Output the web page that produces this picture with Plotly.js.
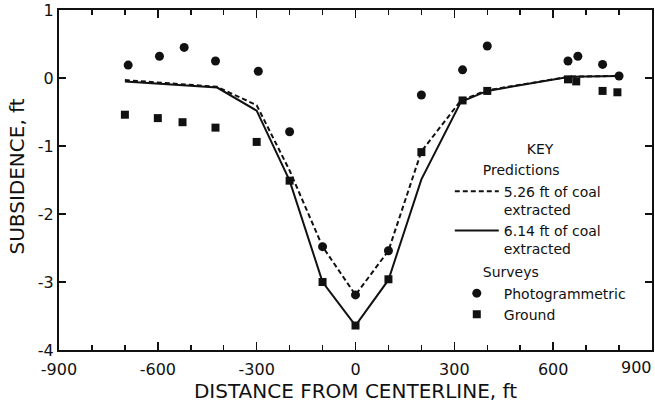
<!DOCTYPE html>
<html>
<head>
<meta charset="utf-8">
<script src="https://cdn.plot.ly/plotly-3.0.1.min.js"></script>
<style>
  html, body { margin: 0; padding: 0; background: #fff; }
  #chart { width: 655px; height: 403px; }
</style>
</head>
<body>
<div id="chart"></div>
<script>
// Predicted subsidence profiles (ft) across the panel
const predX = [-700, -420, -300, -200, -100, 0, 100, 200, 320, 400, 650, 800];
const pred526 = [-0.03, -0.13, -0.40, -1.36, -2.48, -3.19, -2.54, -1.08, -0.33, -0.18, 0.02, 0.03];
const pred614 = [-0.05, -0.14, -0.48, -1.51, -3.00, -3.64, -2.97, -1.49, -0.35, -0.19, 0.02, 0.03];

// Surveyed subsidence (ft)
const photoX = [-690, -595, -520, -425, -295, -200, -100, 0, 100, 200, 325, 400, 645, 675, 750, 800];
const photoY = [0.19, 0.32, 0.45, 0.25, 0.10, -0.79, -2.48, -3.19, -2.54, -0.25, 0.12, 0.47, 0.25, 0.32, 0.20, 0.03];
const groundX = [-700, -600, -525, -425, -300, -200, -100, 0, 100, 200, 325, 400, 645, 670, 750, 795];
const groundY = [-0.54, -0.59, -0.65, -0.73, -0.94, -1.51, -3.00, -3.64, -2.96, -1.09, -0.33, -0.19, -0.02, -0.05, -0.19, -0.21];

// Axis ticks (the last x label sits flush with the right edge, drawn separately)
const xTickVals = [-900, -600, -300, 0, 300, 600, 900];
const xTickText = ['-900', '-600', '-300', '0', '300', '600', ''];
const xEndLabel = '900';
const yTickVals = [-4, -3, -2, -1, 0, 1];
const yTickText = ['-4', '-3', '-2', '-1', '0', '1'];

const ink = '#111';
const tickFont = { family: 'DejaVu Sans', size: 16, color: ink };
const keyFont = { family: 'DejaVu Sans', size: 14, color: ink };
const indent = '\u2003\u2003';

const traces = [
  {
    x: predX, y: pred526, type: 'scatter', mode: 'lines',
    name: '5.26 ft of coal<br>extracted',
    legendgroup: 'pred', legendgrouptitle: { text: indent + 'Predictions', font: keyFont },
    line: { color: ink, width: 2, dash: '5px,3px' }
  },
  {
    x: predX, y: pred614, type: 'scatter', mode: 'lines',
    name: '6.14 ft of coal<br>extracted',
    legendgroup: 'pred',
    line: { color: ink, width: 2 }
  },
  {
    x: photoX, y: photoY, type: 'scatter', mode: 'markers',
    name: 'Photogrammetric',
    legendgroup: 'surv', legendgrouptitle: { text: indent + 'Surveys', font: keyFont },
    marker: { symbol: 'circle', size: 9, color: ink }
  },
  {
    x: groundX, y: groundY, type: 'scatter', mode: 'markers',
    name: 'Ground',
    legendgroup: 'surv',
    marker: { symbol: 'square', size: 8, color: ink }
  }
];

const layout = {
  width: 655, height: 403,
  margin: { l: 59, r: 3, t: 10, b: 53 },
  paper_bgcolor: '#fff', plot_bgcolor: '#fff',
  showlegend: true,
  legend: {
    x: 0.659, xanchor: 'left', y: 0.629, yanchor: 'top',
    bgcolor: 'rgba(0,0,0,0)', borderwidth: 0,
    font: keyFont, valign: 'top', tracegroupgap: 2, itemwidth: 44,
    title: { text: 'KEY', font: keyFont, side: 'top center' }
  },
  xaxis: {
    range: [-900, 900], tickmode: 'array', tickvals: xTickVals, ticktext: xTickText,
    ticks: 'inside', ticklen: 8, tickwidth: 1.5, tickcolor: ink,
    minor: { dtick: 100, tick0: 0, ticks: 'inside', ticklen: 5, tickwidth: 1.5, tickcolor: ink, showgrid: false },
    showline: true, linecolor: ink, linewidth: 2, mirror: 'ticks',
    showgrid: false, zeroline: false, tickfont: tickFont,
    ticklabeloverflow: 'allow', ticklabelstandoff: 4,
    title: { text: 'DISTANCE FROM CENTERLINE, ft', font: { family: 'DejaVu Sans', size: 20, color: ink }, standoff: 6 }
  },
  yaxis: {
    range: [-4, 1], tickmode: 'array', tickvals: yTickVals, ticktext: yTickText,
    ticks: 'inside', ticklen: 7, tickwidth: 1.5, tickcolor: ink,
    showline: true, linecolor: ink, linewidth: 2, mirror: 'ticks',
    showgrid: false, zeroline: false, tickfont: tickFont, ticklabeloverflow: 'allow'
  },
  annotations: [
    {
      text: 'SUBSIDENCE, ft', textangle: -90,
      xref: 'paper', x: -0.071, xanchor: 'center',
      yref: 'y', y: -1.45, yanchor: 'middle',
      showarrow: false, font: { family: 'DejaVu Sans', size: 20, color: ink }
    },
    {
      text: xEndLabel,
      xref: 'x', x: xTickVals[xTickVals.length - 1], xanchor: 'right', xshift: 2,
      yref: 'paper', y: -0.052, yanchor: 'middle',
      showarrow: false, font: tickFont
    }
  ]
};

Plotly.newPlot('chart', traces, layout, { displayModeBar: false, staticPlot: true });
</script>
</body>
</html>
